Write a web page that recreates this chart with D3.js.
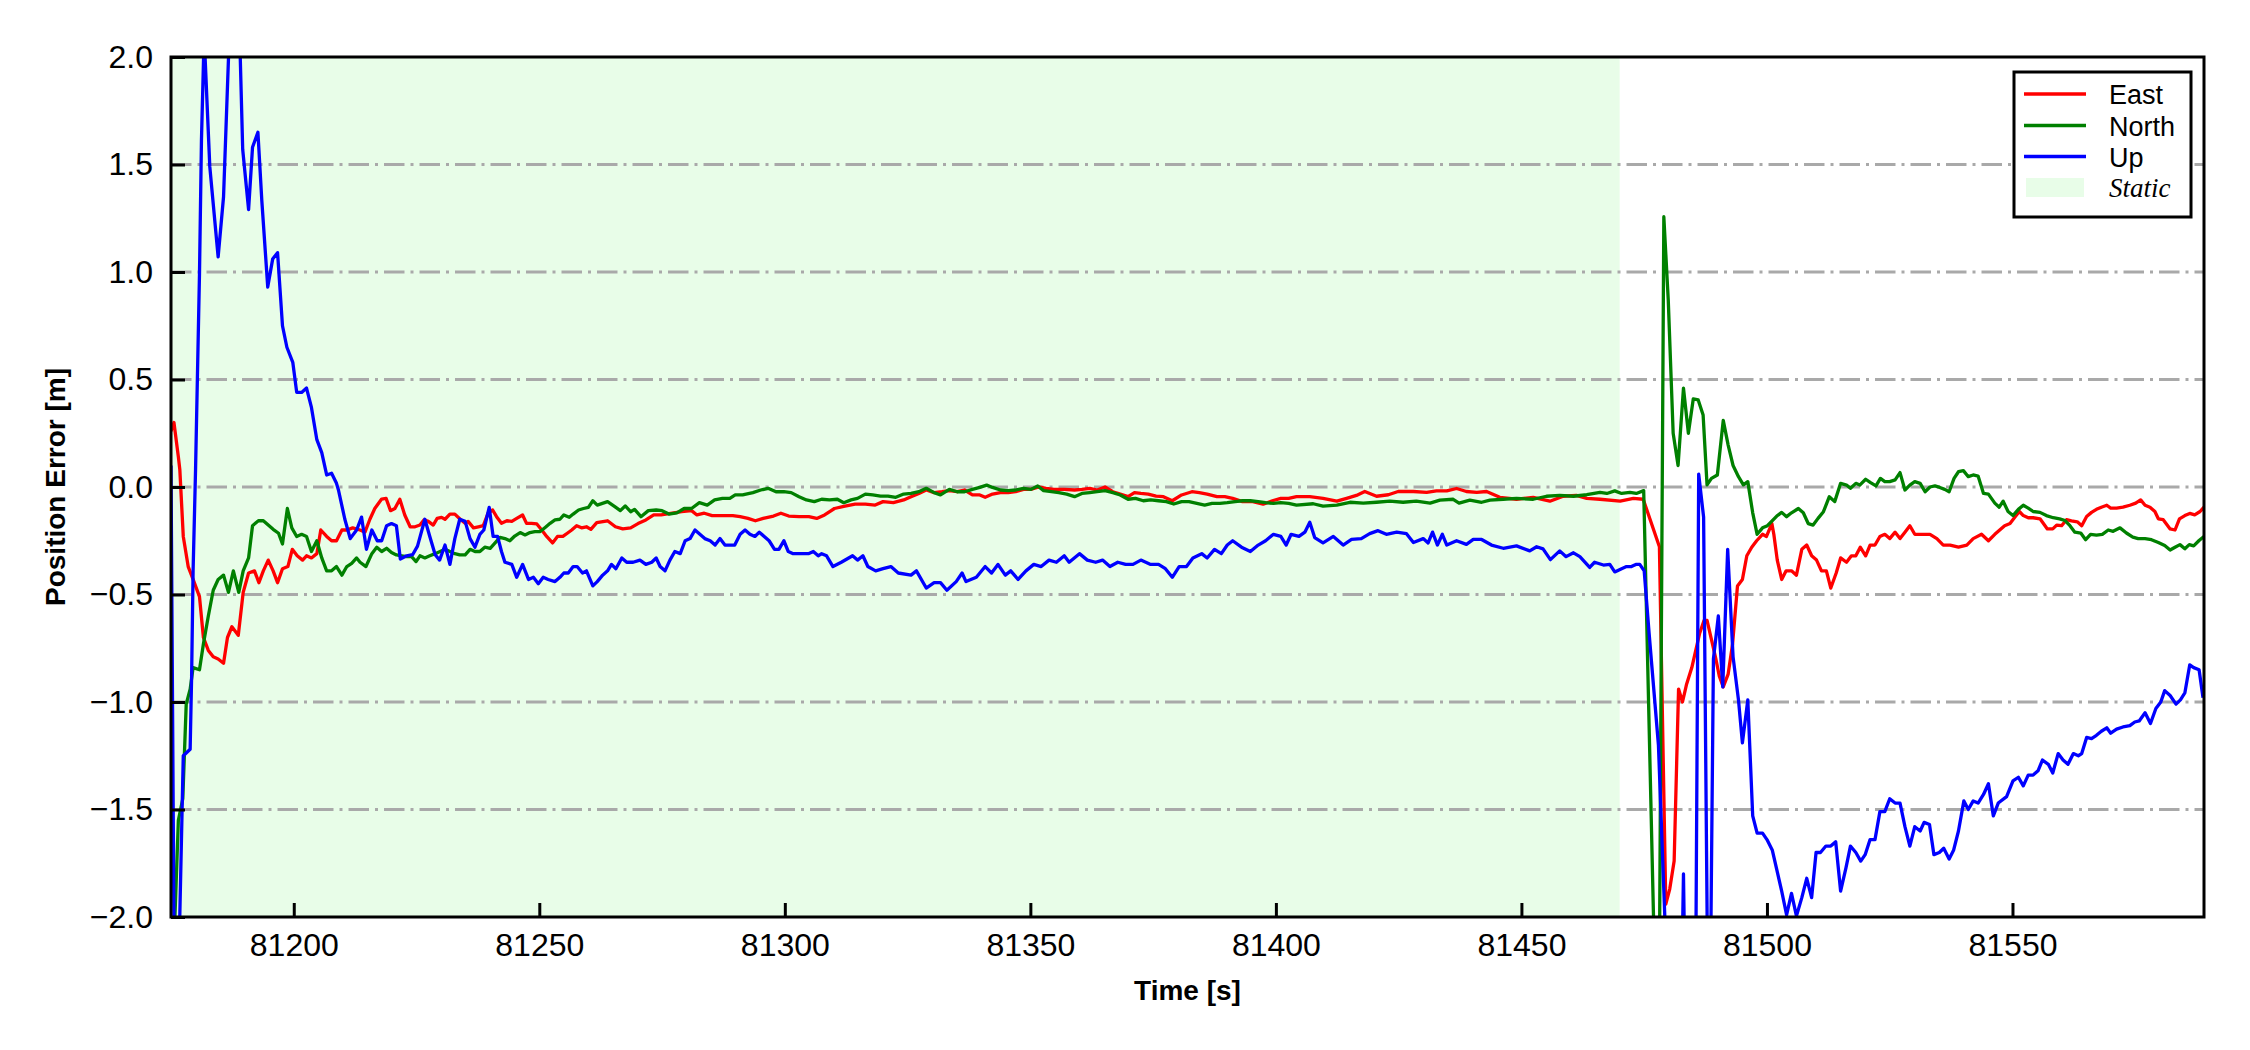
<!DOCTYPE html>
<html><head><meta charset="utf-8">
<script src="https://cdn.jsdelivr.net/npm/d3@7"></script>
<style>body{margin:0;background:#fff}</style>
</head><body>
<svg id="chart" width="2250" height="1050" xmlns="http://www.w3.org/2000/svg"></svg>
<script>
// ---- data (time [s], error [m]) ----
const eastData = [
[81175.0,0.26],[81175.6,0.30],[81176.5,0.14],[81176.8,0.08],[81177.5,-0.23],[81178.5,-0.37],[81179.5,-0.43],[81180.8,-0.51],[81181.6,-0.70],[81182.6,-0.76],[81183.6,-0.79],[81184.6,-0.80],[81185.7,-0.82],[81186.5,-0.70],[81187.4,-0.65],[81188.7,-0.69],[81189.7,-0.49],[81190.8,-0.40],[81192.0,-0.39],[81192.9,-0.445],[81193.8,-0.39],[81194.8,-0.34],[81195.8,-0.39],[81196.7,-0.445],[81197.7,-0.38],[81198.8,-0.37],[81199.7,-0.29],[81200.7,-0.32],[81201.8,-0.34],[81202.6,-0.32],[81203.6,-0.33],[81204.7,-0.31],[81205.5,-0.20],[81206.7,-0.23],[81207.7,-0.25],[81208.7,-0.25],[81209.8,-0.20],[81210.8,-0.20],[81212.0,-0.19],[81213.5,-0.20],[81214.5,-0.21],[81215.5,-0.15],[81216.5,-0.10],[81217.9,-0.056],[81218.8,-0.053],[81219.7,-0.11],[81220.6,-0.10],[81221.6,-0.057],[81222.6,-0.13],[81223.7,-0.185],[81224.7,-0.185],[81225.7,-0.177],[81226.5,-0.153],[81227.4,-0.16],[81228.4,-0.177],[81229.2,-0.146],[81230.1,-0.141],[81230.8,-0.15],[81231.8,-0.126],[81232.8,-0.126],[81233.9,-0.15],[81234.9,-0.169],[81235.5,-0.16],[81236.6,-0.19],[81237.6,-0.185],[81238.6,-0.18],[81239.6,-0.12],[81240.5,-0.107],[81241.3,-0.138],[81242.3,-0.169],[81243.4,-0.157],[81244.4,-0.16],[81245.4,-0.146],[81246.6,-0.13],[81247.4,-0.169],[81248.4,-0.169],[81249.5,-0.172],[81250.5,-0.20],[81251.5,-0.23],[81252.7,-0.26],[81253.7,-0.23],[81254.8,-0.23],[81255.7,-0.215],[81256.6,-0.20],[81257.6,-0.18],[81258.6,-0.19],[81259.6,-0.185],[81260.5,-0.197],[81261.7,-0.166],
[81263.9,-0.157],[81265.5,-0.185],[81267.0,-0.195],[81268.6,-0.19],[81270.1,-0.17],[81271.7,-0.153],[81273.3,-0.13],[81274.8,-0.13],[81277.4,-0.12],[81279.0,-0.115],[81281.0,-0.11],[81282.1,-0.13],[81283.6,-0.122],[81285.2,-0.133],[81287.3,-0.133],[81289.4,-0.133],[81290.9,-0.138],[81292.5,-0.146],[81294.0,-0.157],[81295.6,-0.146],[81297.7,-0.135],[81299.2,-0.122],[81300.8,-0.135],[81302.9,-0.138],[81304.9,-0.138],[81306.5,-0.146],[81308.1,-0.13],[81310.1,-0.10],[81312.0,-0.09],[81314.3,-0.08],[81316.4,-0.08],[81318.4,-0.084],[81320.0,-0.068],[81322.1,-0.073],[81324.2,-0.06],[81325.7,-0.045],[81327.3,-0.03],[81328.8,-0.014],[81330.4,-0.026],[81332.0,-0.022],[81333.5,-0.017],[81335.1,-0.022],[81336.6,-0.014],[81338.2,-0.037],[81339.7,-0.037],[81340.8,-0.048],[81342.3,-0.033],[81343.9,-0.026],[81345.5,-0.026],[81347.0,-0.022],[81348.6,-0.011],[81350.1,-0.011],[81351.7,0.0],[81353.2,-0.006],[81354.8,-0.011],[81356.9,-0.011],[81359.0,-0.014],[81360.5,-0.011],[81362.1,-0.006],[81363.6,-0.014],[81365.2,0.0],[81366.8,-0.022],[81368.3,-0.033],[81369.9,-0.045],[81371.2,-0.026],[81372.5,-0.03],[81374.0,-0.033],[81375.6,-0.042],[81377.1,-0.045],[81378.9,-0.064],[81380.8,-0.037],[81382.9,-0.022],[81384.4,-0.026],[81386.0,-0.033],[81388.0,-0.045],[81389.6,-0.045],[81391.2,-0.053],[81393.2,-0.068],[81395.3,-0.068],[81397.4,-0.08],[81399.3,-0.064],[81401.0,-0.053],[81402.6,-0.053],[81404.2,-0.045],
[81406.9,-0.045],[81409.6,-0.053],[81412.4,-0.066],[81414.4,-0.053],[81416.4,-0.039],[81418.1,-0.021],[81420.5,-0.043],[81422.9,-0.036],[81424.9,-0.021],[81428.0,-0.021],[81430.7,-0.025],[81432.7,-0.018],[81434.8,-0.018],[81436.8,-0.007],[81438.8,-0.021],[81440.9,-0.025],[81442.9,-0.021],[81445.6,-0.048],[81449.0,-0.057],[81452.4,-0.048],[81455.8,-0.066],[81458.5,-0.043],[81461.2,-0.039],[81463.3,-0.053],[81466.0,-0.057],[81470.1,-0.066],[81472.8,-0.053],[81474.8,-0.057],
[81478.1,-0.278],[81479.4,-1.94],[81480.2,-1.87],[81481.1,-1.74],[81482.0,-0.94],[81482.8,-1.00],[81483.6,-0.92],[81484.7,-0.84],[81485.7,-0.74],[81486.3,-0.68],[81487.2,-0.62],[81487.8,-0.62],[81488.7,-0.71],[81489.6,-0.80],[81490.3,-0.88],[81491.1,-0.93],[81492.1,-0.87],[81493.0,-0.73],[81494.0,-0.46],[81495.0,-0.43],[81495.9,-0.32],[81496.9,-0.28],[81497.9,-0.25],[81499.1,-0.22],[81499.9,-0.23],[81501.0,-0.17],[81501.4,-0.22],[81502.1,-0.34],[81503.0,-0.43],[81503.9,-0.39],[81505.0,-0.39],[81506.0,-0.41],[81507.1,-0.29],[81508.1,-0.27],[81509.1,-0.32],[81510.1,-0.34],[81511.1,-0.39],[81512.1,-0.39],[81513.0,-0.47],[81514.1,-0.40],[81515.0,-0.33],[81516.2,-0.35],[81517.2,-0.32],[81518.1,-0.32],[81519.0,-0.28],[81520.1,-0.32],[81521.0,-0.27],[81522.0,-0.27],[81523.0,-0.23],[81524.0,-0.22],[81525.0,-0.24],[81526.1,-0.21],[81527.1,-0.24],[81528.1,-0.21],[81529.1,-0.18],[81530.1,-0.22],[81531.5,-0.22],[81533.2,-0.22],[81534.6,-0.24],[81535.9,-0.27],[81537.3,-0.27],[81539.0,-0.28],[81540.7,-0.27],[81542.0,-0.24],[81543.7,-0.22],[81545.1,-0.25],
[81546.4,-0.22],[81547.4,-0.20],[81548.4,-0.18],[81549.5,-0.17],[81550.5,-0.14],[81551.4,-0.114],[81552.2,-0.133],[81553.2,-0.143],[81554.2,-0.143],[81555.6,-0.148],[81556.3,-0.17],[81557.1,-0.195],[81558.2,-0.195],[81559.0,-0.177],[81560.0,-0.18],[81561.0,-0.152],[81562.0,-0.158],[81563.2,-0.162],[81564.1,-0.18],[81565.1,-0.137],[81566.1,-0.118],[81567.1,-0.104],[81568.1,-0.094],[81569.2,-0.085],[81570.0,-0.098],[81571.2,-0.098],[81572.5,-0.094],[81573.9,-0.085],[81575.1,-0.075],[81576.1,-0.06],[81577.0,-0.085],[81578.0,-0.094],[81579.0,-0.114],[81579.7,-0.148],[81580.7,-0.152],[81582.1,-0.195],[81583.1,-0.20],[81584.0,-0.148],[81585.1,-0.133],[81586.1,-0.123],[81587.1,-0.13],[81588.2,-0.114],[81589.0,-0.094]
];
const northData = [
[81175.0,-2.4],[81175.8,-2.0],[81176.5,-1.55],[81177.4,-1.45],[81178.1,-1.01],[81178.9,-0.94],[81179.5,-0.84],[81180.8,-0.85],[81181.6,-0.73],[81182.6,-0.60],[81183.6,-0.48],[81184.6,-0.43],[81185.7,-0.41],[81186.7,-0.49],[81187.7,-0.39],[81188.8,-0.49],[81189.7,-0.39],[81190.8,-0.33],[81191.6,-0.18],[81192.8,-0.157],[81193.8,-0.157],[81194.8,-0.177],[81195.8,-0.197],[81196.9,-0.215],[81197.7,-0.265],[81198.7,-0.10],[81199.6,-0.19],[81200.6,-0.23],[81201.6,-0.22],[81202.6,-0.23],[81203.6,-0.30],[81204.7,-0.25],[81205.7,-0.33],[81206.7,-0.39],[81207.7,-0.39],[81208.7,-0.37],[81209.8,-0.41],[81210.8,-0.37],[81211.8,-0.355],[81212.8,-0.33],
[81213.5,-0.35],[81214.7,-0.37],[81215.9,-0.31],[81216.9,-0.28],[81217.9,-0.30],[81218.9,-0.285],[81219.9,-0.305],[81220.9,-0.316],[81222.0,-0.32],[81223.0,-0.324],[81224.0,-0.324],[81224.9,-0.347],[81225.7,-0.32],[81226.7,-0.33],[81227.7,-0.32],[81228.8,-0.31],[81229.8,-0.30],[81230.8,-0.29],[81231.8,-0.30],[81232.8,-0.31],[81233.8,-0.316],[81234.9,-0.316],[81235.9,-0.29],[81236.9,-0.30],[81237.9,-0.30],[81238.9,-0.28],[81240.0,-0.285],[81241.0,-0.26],[81242.0,-0.234],[81243.0,-0.24],[81244.0,-0.25],[81245.0,-0.228],[81246.1,-0.212],[81247.1,-0.223],[81248.1,-0.212],[81249.1,-0.208],[81250.1,-0.208],[81251.2,-0.188],[81252.2,-0.169],[81253.2,-0.153],[81254.2,-0.15],[81255.0,-0.13],[81256.1,-0.141],[81256.9,-0.126],[81258.0,-0.107],[81259.0,-0.10],[81260.0,-0.095],[81260.9,-0.064],[81261.8,-0.084],
[81263.9,-0.068],[81265.3,-0.09],[81266.5,-0.11],[81267.5,-0.088],[81268.6,-0.115],[81269.4,-0.104],[81270.7,-0.138],[81272.2,-0.11],[81273.8,-0.107],[81275.0,-0.11],[81276.4,-0.126],[81278.0,-0.12],[81279.5,-0.10],[81281.0,-0.10],[81282.6,-0.073],[81284.2,-0.084],[81285.7,-0.06],[81287.3,-0.053],[81288.8,-0.053],[81289.9,-0.037],[81291.4,-0.037],[81293.5,-0.026],[81295.1,-0.014],[81296.6,-0.006],[81298.2,-0.022],[81299.8,-0.022],[81301.3,-0.026],[81302.9,-0.045],[81304.4,-0.06],[81306.0,-0.068],[81307.5,-0.057],[81309.1,-0.06],[81310.7,-0.057],[81312.0,-0.073],[81313.5,-0.06],[81314.8,-0.053],[81316.4,-0.033],[81317.9,-0.037],[81319.5,-0.042],[81321.0,-0.042],[81322.6,-0.048],[81324.2,-0.033],[81325.7,-0.03],[81327.3,-0.022],[81328.8,-0.006],[81330.4,-0.026],[81331.7,-0.037],[81333.5,-0.011],[81335.1,-0.022],[81336.6,-0.022],[81338.2,-0.011],[81339.7,-0.002],[81341.1,0.009],[81342.3,-0.002],[81343.9,-0.014],[81345.5,-0.017],[81347.0,-0.014],[81348.6,-0.006],[81350.1,-0.011],[81351.5,0.005],[81352.7,-0.017],[81354.3,-0.022],[81355.8,-0.026],[81357.4,-0.033],[81359.0,-0.045],[81360.5,-0.03],[81362.1,-0.026],[81363.6,-0.022],[81365.2,-0.017],[81366.8,-0.026],[81368.3,-0.037],[81369.9,-0.057],[81371.4,-0.053],[81373.0,-0.064],[81374.5,-0.06],[81376.1,-0.064],[81377.7,-0.068],[81379.2,-0.079],[81380.8,-0.068],[81382.3,-0.068],[81383.9,-0.076],[81385.5,-0.084],[81387.0,-0.076],[81388.6,-0.076],[81390.1,-0.073],[81391.7,-0.068],[81393.2,-0.064],[81394.8,-0.064],[81396.4,-0.068],[81397.9,-0.073],[81399.5,-0.076],[81401.0,-0.073],[81402.6,-0.076],[81404.2,-0.084],
[81407.6,-0.078],[81409.6,-0.089],[81412.4,-0.084],[81415.1,-0.071],[81417.8,-0.075],[81420.5,-0.071],[81423.2,-0.066],[81425.9,-0.071],[81428.6,-0.066],[81431.4,-0.075],[81433.4,-0.061],[81436.1,-0.057],[81437.3,-0.075],[81439.5,-0.061],[81441.9,-0.071],[81443.6,-0.061],[81446.3,-0.057],[81449.0,-0.053],[81452.4,-0.057],[81455.1,-0.043],[81457.8,-0.039],[81460.6,-0.043],[81463.3,-0.036],[81466.0,-0.025],[81467.4,-0.03],[81469.0,-0.018],[81470.4,-0.03],[81472.1,-0.025],[81473.4,-0.03],[81474.9,-0.017],
[81477.0,-2.1],[81478.0,-2.6],[81479.0,1.257],[81479.9,0.87],[81480.9,0.25],[81481.9,0.10],[81483.0,0.46],[81484.0,0.25],[81485.0,0.41],[81486.0,0.405],[81487.0,0.335],[81487.8,0.01],[81488.7,0.04],[81489.9,0.056],[81491.1,0.31],[81492.1,0.195],[81493.1,0.10],[81494.2,0.048],[81495.2,0.01],[81496.1,0.025],[81497.1,-0.12],[81498.0,-0.22],[81499.1,-0.19],[81500.1,-0.18],[81502.0,-0.135],[81503.0,-0.118],[81504.0,-0.138],[81505.0,-0.12],[81506.4,-0.10],[81507.4,-0.12],[81508.4,-0.17],[81509.4,-0.177],[81510.4,-0.146],[81511.5,-0.115],[81512.7,-0.045],[81513.8,-0.068],[81515.0,0.017],[81516.2,0.009],[81517.0,-0.006],[81518.1,0.017],[81518.9,0.009],[81520.1,0.036],[81521.1,0.02],[81522.2,0.005],[81523.1,0.04],[81524.0,0.025],[81525.0,0.025],[81526.1,0.033],[81527.1,0.067],[81528.1,-0.014],[81529.1,0.009],[81530.1,0.025],[81531.2,0.017],[81532.2,-0.022],[81533.2,0.0],[81534.2,0.005],[81535.2,-0.002],[81536.2,-0.011],[81537.1,-0.022],[81538.1,0.04],[81539.0,0.071],[81540.0,0.076],[81541.0,0.048],[81542.0,0.056],[81543.0,0.051],[81544.1,-0.03],[81545.1,-0.033],
[81546.4,-0.075],[81547.3,-0.094],[81548.1,-0.066],[81549.1,-0.114],[81550.1,-0.133],[81551.2,-0.104],[81552.2,-0.085],[81553.2,-0.098],[81554.2,-0.114],[81555.6,-0.118],[81556.9,-0.133],[81558.3,-0.143],[81559.6,-0.148],[81560.7,-0.156],[81561.7,-0.18],[81562.7,-0.21],[81563.9,-0.214],[81564.9,-0.245],[81565.9,-0.22],[81567.1,-0.224],[81568.3,-0.22],[81569.5,-0.20],[81570.5,-0.206],[81571.9,-0.19],[81573.2,-0.214],[81574.5,-0.233],[81575.6,-0.24],[81577.0,-0.24],[81578.3,-0.245],[81579.7,-0.258],[81581.0,-0.272],[81582.1,-0.293],[81583.1,-0.28],[81584.1,-0.268],[81585.1,-0.287],[81586.0,-0.268],[81586.9,-0.274],[81588.0,-0.249],[81589.0,-0.23]
];
const upData = [
[81175.0,0.1],[81175.7,-2.4],[81176.5,-2.3],[81177.5,-1.25],[81178.9,-1.22],[81179.2,-0.88],[81179.5,-0.39],[81180.0,0.08],[81180.8,0.99],[81181.2,1.61],[81181.75,2.1],[81182.9,1.49],[81184.6,1.07],[81185.7,1.35],[81186.7,1.99],[81187.9,2.6],[81189.1,2.0],[81189.6,1.57],[81190.8,1.29],[81191.6,1.58],[81192.7,1.65],[81193.5,1.33],[81194.7,0.93],[81195.7,1.06],[81196.7,1.09],[81197.7,0.75],[81198.6,0.65],[81199.8,0.58],[81200.6,0.44],[81201.6,0.44],[81202.6,0.46],[81203.6,0.37],[81204.7,0.22],[81205.7,0.16],[81206.7,0.056],[81207.7,0.064],[81208.7,0.017],[81209.1,-0.014],[81210.4,-0.15],[81211.5,-0.24],[81212.8,-0.20],[81213.8,-0.14],[81214.8,-0.29],[81215.9,-0.20],[81217.0,-0.25],[81217.9,-0.25],[81218.9,-0.18],[81219.9,-0.17],[81220.9,-0.18],[81221.7,-0.335],[81223.0,-0.32],[81224.2,-0.315],[81225.2,-0.275],[81226.7,-0.15],[81227.7,-0.23],[81228.8,-0.315],[81229.7,-0.34],[81230.8,-0.27],[81231.8,-0.36],[81232.8,-0.24],[81233.8,-0.15],[81234.9,-0.16],[81235.9,-0.24],[81236.9,-0.28],[81237.9,-0.22],[81238.7,-0.20],[81239.8,-0.095],[81240.6,-0.23],[81241.5,-0.23],[81242.3,-0.30],[81243.0,-0.35],[81244.4,-0.36],[81245.4,-0.42],[81246.6,-0.36],[81247.8,-0.43],[81248.8,-0.42],[81249.8,-0.45],[81250.8,-0.42],[81251.8,-0.43],[81253.2,-0.44],[81254.2,-0.42],[81255.0,-0.40],[81255.9,-0.40],[81256.9,-0.37],[81257.7,-0.37],[81258.8,-0.40],[81259.6,-0.39],[81260.9,-0.46],[81261.8,-0.44],[81262.9,-0.41],[81263.9,-0.39],[81264.7,-0.36],[81265.6,-0.38],[81266.8,-0.33],[81267.8,-0.35],[81269.1,-0.35],[81270.5,-0.34],[81271.7,-0.36],[81272.9,-0.35],[81273.8,-0.33],[81274.6,-0.37],[81275.6,-0.39],[81276.6,-0.34],[81277.6,-0.30],[81278.7,-0.31],[81279.7,-0.25],[81280.7,-0.24],[81281.7,-0.20],[81282.7,-0.22],[81283.7,-0.24],[81284.8,-0.25],[81285.8,-0.27],[81286.8,-0.24],[81287.8,-0.27],[81288.8,-0.27],[81289.8,-0.27],[81290.9,-0.22],[81291.9,-0.20],[81292.9,-0.22],[81293.9,-0.23],[81294.8,-0.21],[81295.8,-0.23],[81296.8,-0.25],[81297.9,-0.29],[81298.8,-0.29],[81299.8,-0.25],[81300.7,-0.30],[81301.7,-0.31],[81303.1,-0.31],[81304.8,-0.31],[81305.8,-0.30],[81306.8,-0.32],[81307.5,-0.31],[81308.5,-0.32],[81309.8,-0.37],[81311.5,-0.35],[81313.8,-0.32],[81314.8,-0.34],[81315.9,-0.32],[81316.9,-0.37],[81318.5,-0.39],[81320.0,-0.38],[81321.6,-0.37],[81323.1,-0.40],[81325.7,-0.41],[81326.8,-0.39],[81328.8,-0.47],[81330.4,-0.445],[81331.7,-0.445],[81333.0,-0.48],[81334.9,-0.44],[81336.1,-0.40],[81336.9,-0.44],[81339.0,-0.42],[81340.8,-0.37],[81342.1,-0.40],[81343.4,-0.36],[81344.9,-0.41],[81346.0,-0.39],[81347.5,-0.43],[81349.1,-0.39],[81350.7,-0.36],[81352.2,-0.37],[81353.8,-0.34],[81355.3,-0.35],[81356.9,-0.32],[81357.9,-0.35],[81360.0,-0.31],[81361.6,-0.34],[81363.3,-0.35],[81364.7,-0.34],[81366.2,-0.37],[81367.8,-0.35],[81369.4,-0.36],[81370.9,-0.36],[81372.5,-0.34],[81374.5,-0.36],[81376.1,-0.36],[81377.5,-0.38],[81378.9,-0.42],[81380.3,-0.37],[81381.8,-0.37],[81383.1,-0.33],[81384.9,-0.31],[81386.0,-0.33],[81387.5,-0.29],[81388.9,-0.31],[81390.1,-0.27],[81391.2,-0.25],[81393.0,-0.28],[81394.8,-0.30],[81396.4,-0.27],[81397.9,-0.25],[81399.5,-0.22],[81401.0,-0.23],[81402.1,-0.27],[81403.1,-0.22],[81404.7,-0.23],[81405.9,-0.21],[81406.9,-0.164],[81407.9,-0.235],[81409.6,-0.26],[81411.7,-0.23],[81413.7,-0.27],[81415.4,-0.244],[81417.4,-0.24],[81419.1,-0.217],[81420.8,-0.203],[81422.5,-0.22],[81424.6,-0.21],[81426.6,-0.217],[81428.0,-0.258],[81430.0,-0.24],[81431.0,-0.26],[81431.9,-0.21],[81432.9,-0.27],[81433.9,-0.22],[81434.8,-0.27],[81436.8,-0.25],[81438.8,-0.267],[81440.2,-0.244],[81441.9,-0.244],[81443.9,-0.27],[81446.3,-0.285],[81449.0,-0.274],[81451.7,-0.297],[81453.1,-0.278],[81454.4,-0.288],[81455.9,-0.338],[81457.8,-0.297],[81459.1,-0.324],[81460.6,-0.306],[81461.9,-0.324],[81463.9,-0.374],[81464.9,-0.35],[81466.7,-0.363],[81468.0,-0.36],[81469.0,-0.395],[81470.4,-0.38],[81471.4,-0.37],[81472.4,-0.37],[81473.3,-0.36],[81474.1,-0.36],[81475.0,-0.39],[81476.0,-0.68],[81477.9,-1.2],[81479.2,-2.0],[81480.5,-2.6],[81482.0,-3.2],[81483.0,-1.80],[81484.0,-3.4],[81485.2,-3.4],[81486.1,0.06],[81487.1,-0.14],[81488.2,-3.0],[81489.1,-0.80],[81490.1,-0.60],[81491.0,-0.93],[81492.0,-0.29],[81493.1,-0.79],[81494.2,-0.99],[81495.0,-1.19],[81496.1,-0.99],[81497.1,-1.53],[81498.0,-1.61],[81499.1,-1.61],[81500.0,-1.64],[81501.1,-1.69],[81502.0,-1.78],[81503.0,-1.88],[81504.0,-1.99],[81505.0,-1.89],[81506.0,-1.995],[81507.1,-1.91],[81508.1,-1.82],[81509.1,-1.91],[81510.0,-1.70],[81510.9,-1.70],[81512.0,-1.67],[81513.0,-1.67],[81514.0,-1.65],[81515.0,-1.88],[81516.1,-1.77],[81517.0,-1.67],[81518.1,-1.70],[81519.1,-1.74],[81520.0,-1.71],[81521.0,-1.64],[81522.0,-1.64],[81523.0,-1.51],[81524.0,-1.51],[81525.0,-1.45],[81526.1,-1.47],[81527.1,-1.47],[81528.1,-1.58],[81529.1,-1.67],[81530.1,-1.58],[81531.2,-1.60],[81532.0,-1.56],[81533.1,-1.57],[81534.0,-1.71],[81535.1,-1.70],[81536.0,-1.68],[81537.1,-1.73],[81538.0,-1.69],[81539.0,-1.60],[81540.1,-1.46],[81541.0,-1.50],[81542.0,-1.46],[81543.0,-1.47],[81544.1,-1.43],[81545.1,-1.38],[81546.1,-1.53],[81547.1,-1.47],[81548.8,-1.44],[81550.1,-1.367],[81551.2,-1.35],[81552.2,-1.39],[81553.2,-1.34],[81554.2,-1.34],[81555.2,-1.32],[81556.1,-1.27],[81557.3,-1.29],[81558.2,-1.33],[81559.3,-1.24],[81560.3,-1.27],[81561.3,-1.29],[81562.4,-1.24],[81563.4,-1.25],[81564.1,-1.24],[81565.1,-1.165],[81566.1,-1.17],[81567.1,-1.155],[81568.1,-1.136],[81569.2,-1.12],[81570.0,-1.145],[81571.2,-1.126],[81572.5,-1.116],[81573.9,-1.11],[81574.9,-1.093],[81575.8,-1.088],[81577.0,-1.05],[81578.1,-1.10],[81579.2,-1.03],[81580.2,-1.00],[81581.0,-0.947],[81582.1,-0.97],[81583.3,-1.01],[81584.2,-0.99],[81585.1,-0.958],[81586.1,-0.827],[81586.9,-0.84],[81588.0,-0.85],[81588.8,-0.98]
];
const seriesNames = ["East", "North", "Up"];
const seriesColors = ["#ff0000", "#008000", "#0000ff"];
const staticSpan = [81175, 81470];
const staticLabel = "Static";
const xDomain = [81175, 81589];
const yDomain = [-2, 2];
const xTickValues = [81200, 81250, 81300, 81350, 81400, 81450, 81500, 81550];
const yTickValues = [-2, -1.5, -1, -0.5, 0, 0.5, 1, 1.5, 2];
const gridValues = [-1.5, -1, -0.5, 0, 0.5, 1, 1.5];
const xLabel = "Time [s]";
const yLabel = "Position Error [m]";

// ---- drawing ----
const svg = d3.select("#chart");
const plot = {left: 171, right: 2204, top: 57, bottom: 917};
const x = d3.scaleLinear().domain(xDomain).range([plot.left, plot.right]);
const y = d3.scaleLinear().domain(yDomain).range([plot.bottom, plot.top]);
const FONT = "'Liberation Sans', Arial, Helvetica, sans-serif";

svg.append("rect").attr("width", 2250).attr("height", 1050).attr("fill", "#ffffff");

svg.append("defs").append("clipPath").attr("id", "clip")
  .append("rect").attr("x", plot.left).attr("y", plot.top)
  .attr("width", plot.right - plot.left).attr("height", plot.bottom - plot.top);

// static span
svg.append("rect")
  .attr("x", x(staticSpan[0])).attr("y", plot.top)
  .attr("width", x(staticSpan[1]) - x(staticSpan[0]))
  .attr("height", plot.bottom - plot.top)
  .attr("fill", "#e8fde8");

// grid
svg.append("g").selectAll("line").data(gridValues).join("line")
  .attr("x1", plot.left).attr("x2", plot.right)
  .attr("y1", d => y(d)).attr("y2", d => y(d))
  .attr("stroke", "#a9a9a9").attr("stroke-width", 3)
  .attr("stroke-dasharray", "20.5,6,3,6");

// lines
const line = d3.line().x(d => x(d[0])).y(d => y(d[1]));
const allSeries = [eastData, northData, upData];
const lg = svg.append("g").attr("clip-path", "url(#clip)");
allSeries.forEach((s, i) => {
  lg.append("path").datum(s).attr("d", line)
    .attr("fill", "none").attr("stroke", seriesColors[i])
    .attr("stroke-width", 3.3).attr("stroke-linejoin", "round").attr("stroke-linecap", "butt");
});

// axes
const xAxis = d3.axisBottom(x).tickValues(xTickValues).tickFormat(d3.format("d"))
  .tickSizeInner(-14).tickSizeOuter(0).tickPadding(16);
const gx = svg.append("g").attr("transform", `translate(0,${plot.bottom})`).call(xAxis);
const yAxis = d3.axisLeft(y).tickValues(yTickValues).tickFormat(d3.format(".1f"))
  .tickSizeInner(-14).tickSizeOuter(0).tickPadding(18);
const gy = svg.append("g").attr("transform", `translate(${plot.left},0)`).call(yAxis);
[gx, gy].forEach(g => {
  g.select(".domain").remove();
  g.selectAll(".tick line").attr("stroke", "#000").attr("stroke-width", 3);
  g.selectAll(".tick text").attr("fill", "#000").style("font-family", FONT).style("font-size", "32px");
});

// frame
svg.append("rect").attr("x", plot.left).attr("y", plot.top)
  .attr("width", plot.right - plot.left).attr("height", plot.bottom - plot.top)
  .attr("fill", "none").attr("stroke", "#000").attr("stroke-width", 3);

// axis labels
svg.append("text").attr("x", (plot.left + plot.right) / 2).attr("y", 1000)
  .attr("text-anchor", "middle").style("font-family", FONT).style("font-weight", "bold")
  .style("font-size", "28px").text(xLabel);
svg.append("text").attr("transform", `translate(65,${(plot.top + plot.bottom) / 2}) rotate(-90)`)
  .attr("text-anchor", "middle").style("font-family", FONT).style("font-weight", "bold")
  .style("font-size", "28px").text(yLabel);

// legend
const leg = svg.append("g");
leg.append("rect").attr("x", 2014).attr("y", 72).attr("width", 177).attr("height", 145)
  .attr("fill", "#fff").attr("stroke", "#000").attr("stroke-width", 3);
const rowY = [94, 125.5, 156.5, 187.5];
seriesNames.forEach((n, i) => {
  leg.append("line").attr("x1", 2024).attr("x2", 2086).attr("y1", rowY[i]).attr("y2", rowY[i])
    .attr("stroke", seriesColors[i]).attr("stroke-width", 3.3);
  leg.append("text").attr("x", 2109).attr("y", rowY[i] + 10)
    .style("font-family", FONT).style("font-size", "27px").text(n);
});
leg.append("rect").attr("x", 2026).attr("y", 178).attr("width", 58).attr("height", 19).attr("fill", "#e8fde8");
leg.append("text").attr("x", 2109).attr("y", 197)
  .style("font-family", "'Liberation Serif', 'Times New Roman', serif").style("font-style", "italic")
  .style("font-size", "27px").text(staticLabel);
</script>
</body></html>
